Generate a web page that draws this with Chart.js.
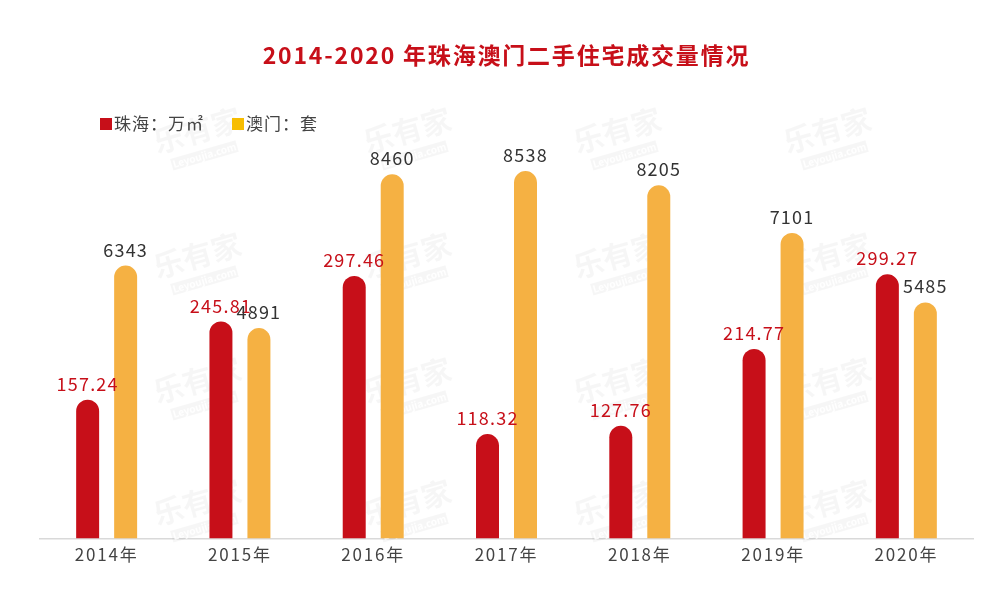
<!DOCTYPE html>
<html>
<head>
<meta charset="utf-8">
<script src="https://cdn.jsdelivr.net/npm/chart.js@4"></script>
<style>
    html, body { margin: 0; padding: 0; background: #fff; }
    #wrap { width: 998px; height: 608px; }
</style>
</head>
<body>
<div id="wrap"><canvas id="tradeChart"></canvas></div>
<script>
const categories = ['2014年', '2015年', '2016年', '2017年', '2018年', '2019年', '2020年'];
const zhuhaiArea = [157.24, 245.81, 297.46, 118.32, 127.76, 214.77, 299.27];
const macauUnits = [6343, 4891, 8460, 8538, 8205, 7101, 5485];
const seriesNames = ['珠海：万㎡', '澳门：套'];

const RED = '#c70f19';
const YELLOW = '#f5b143';
const FONT = '"Noto Sans CJK SC", "Noto Sans", sans-serif';

// 乐有家 水印
const watermarkPlugin = {
    id: 'watermark',
    beforeDatasetsDraw(chart) {
        const ctx = chart.ctx;
        const spots = [[200, 140], [410, 140], [620, 140], [830, 140],
                       [200, 265], [410, 265], [620, 265], [830, 265],
                       [200, 390], [410, 390], [620, 390], [830, 390],
                       [200, 512], [410, 512], [620, 512], [830, 512]];
        ctx.save();
        ctx.letterSpacing = '0px';
        spots.forEach(([x, y]) => {
            ctx.save();
            ctx.translate(x, y);
            ctx.rotate(-0.28);
            ctx.fillStyle = 'rgba(0,0,0,0.035)';
            ctx.font = 'bold 30px ' + FONT;
            ctx.textAlign = 'center';
            ctx.textBaseline = 'middle';
            ctx.fillText('乐有家', 0, -10);
            ctx.fillRect(-34, 10, 68, 12);
            ctx.fillStyle = 'rgba(255,255,255,0.9)';
            ctx.font = 'bold 10px ' + FONT;
            ctx.fillText('Leyoujia.com', 0, 16);
            ctx.restore();
        });
        ctx.restore();
    }
};

// 图例和柱顶数值
const labelPlugin = {
    id: 'barLabels',
    afterDatasetsDraw(chart) {
        const ctx = chart.ctx;
        ctx.save();
        ctx.letterSpacing = '1.2px';
        ctx.font = '18px ' + FONT;
        ctx.textAlign = 'center';
        ctx.textBaseline = 'alphabetic';
        chart.data.datasets.forEach((ds, i) => {
            const meta = chart.getDatasetMeta(i);
            ctx.fillStyle = i === 0 ? RED : '#333';
            meta.data.forEach((bar, j) => {
                const txt = i === 0 ? ds.data[j].toFixed(2) : String(ds.data[j]);
                ctx.fillText(txt, bar.x, bar.y - 9);
            });
        });

        // legend
        ctx.letterSpacing = '1px';
        ctx.font = '17px ' + FONT;
        ctx.textAlign = 'left';
        ctx.textBaseline = 'middle';
        let x = 100;
        const y = 124;
        chart.data.datasets.forEach((ds, i) => {
            ctx.fillStyle = i === 0 ? RED : '#f7bd00';
            ctx.fillRect(x, y - 6, 12, 12);
            ctx.fillStyle = '#444';
            ctx.fillText(ds.label, x + 14, y);
            x += 14 + ctx.measureText(ds.label).width + 28;
        });
        ctx.restore();
    }
};

const spacingPlugin = {
    id: 'spacing',
    beforeDraw(chart) {
        chart.ctx.letterSpacing = '1.8px';
    }
};

new Chart(document.getElementById('tradeChart'), {
    type: 'bar',
    data: {
        labels: categories,
        datasets: [
            {
                label: seriesNames[0],
                data: zhuhaiArea,
                backgroundColor: RED,
                yAxisID: 'y',
                borderRadius: { topLeft: 12, topRight: 12 },
                borderSkipped: 'bottom'
            },
            {
                label: seriesNames[1],
                data: macauUnits,
                backgroundColor: YELLOW,
                yAxisID: 'y1',
                borderRadius: { topLeft: 12, topRight: 12 },
                borderSkipped: 'bottom'
            }
        ]
    },
    options: {
        responsive: true,
        maintainAspectRatio: false,
        animation: false,
        categoryPercentage: 0.57,
        barPercentage: 0.605,
        layout: {
            padding: { left: 40, right: 25, top: 0, bottom: 37 }
        },
        scales: {
            x: {
                grid: { display: false, drawTicks: false },
                border: { display: true, color: '#d9d9d9', width: 1.5 },
                ticks: {
                    padding: 6,
                    color: '#444',
                    font: { family: FONT, size: 17, lineHeight: 1.2 }
                }
            },
            y: {
                display: false,
                min: 0,
                max: 440
            },
            y1: {
                display: false,
                min: 0,
                max: 9026
            }
        },
        plugins: {
            legend: { display: false },
            tooltip: { enabled: false },
            title: {
                display: true,
                text: '2014-2020 年珠海澳门二手住宅成交量情况',
                color: RED,
                font: { family: FONT, size: 23, weight: 'bold', lineHeight: 1.2 },
                padding: { top: 41, bottom: 81.4 }
            }
        }
    },
    plugins: [spacingPlugin, watermarkPlugin, labelPlugin]
});
</script>
</body>
</html>
